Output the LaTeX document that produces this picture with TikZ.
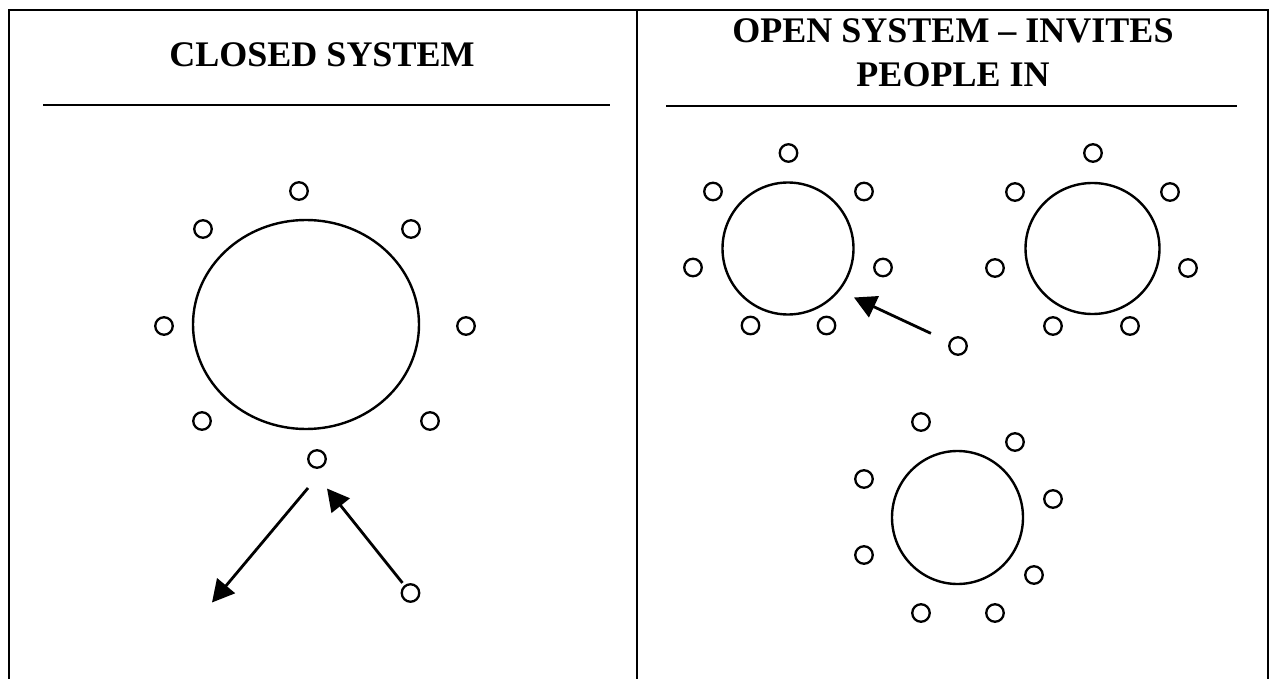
\documentclass[tikz,border=0pt]{standalone}
\usepackage{fontspec}
\setmainfont{Liberation Serif}
\usetikzlibrary{shapes.geometric,arrows.meta}
\tikzset{
  seat/.style={circle,draw,line width=2.3pt,minimum size=17.5pt,inner sep=0pt},
  table/.style={ellipse,draw,line width=2.4pt,inner sep=0pt},
  frameline/.style={line width=2.2pt},
  rulestyle/.style={line width=2.6pt},
  titletext/.style={anchor=base,inner sep=0pt,font=\fontsize{36pt}{44pt}\selectfont\bfseries},
  movearrow/.style={line width=2.8pt,-{Triangle[length=22pt,width=23pt]}}
}
\begin{document}
\begin{tikzpicture}[x=1pt,y=-1pt]
\useasboundingbox (0,0) rectangle (1269,679);
% frame
\draw[frameline] (9,679) -- (9,10) -- (1268,10) -- (1268,679);
\draw[frameline] (637,10) -- (637,679);
% titles
\node[titletext] (t1) at (322,67) {CLOSED SYSTEM};
\node[titletext] (t2a) at (953,43) {OPEN SYSTEM – INVITES};
\node[titletext] (t2b) at (953,87) {PEOPLE IN};
\draw[rulestyle] (43,105) -- (610,105);
\draw[rulestyle] (666,106) -- (1237,106);
% closed system
\node[table,minimum width=226pt,minimum height=209pt] (L) at (306,324.5) {};
\node[seat] (L1) at (299,191) {};
\node[seat] (L2) at (203,229) {};
\node[seat] (L3) at (411,229) {};
\node[seat] (L4) at (164,326) {};
\node[seat] (L5) at (466,326) {};
\node[seat] (L6) at (202,421) {};
\node[seat] (L7) at (430,421) {};
\node[seat] (c0) at (317,459) {};
\node[seat] (cR) at (410.5,593) {};
\coordinate (outS) at (308,488);
\coordinate (outE) at (212,602.5);
\coordinate (inE) at (327,488.5);
\draw[movearrow] (outS) -- (outE);
\draw[movearrow,shorten <=3pt] (cR) -- (inE);
% open system cluster A
\node[table,minimum width=131pt,minimum height=132pt] (A) at (788,248.5) {};
\node[seat] (A1) at (788.5,153) {};
\node[seat] (A2) at (713,191.5) {};
\node[seat] (A3) at (864,191.5) {};
\node[seat] (A4) at (693,267.5) {};
\node[seat] (A5) at (883,267.5) {};
\node[seat] (A6) at (750.5,325.5) {};
\node[seat] (A7) at (826.5,325.5) {};
\node[seat] (cA) at (958,346) {};
\coordinate (aE) at (854,297.5);
\draw[movearrow,shorten <=20pt] (cA) -- (aE);
% cluster B
\node[table,minimum width=134pt,minimum height=131pt] (B) at (1092.5,248.5) {};
\node[seat] (B1) at (1093,153) {};
\node[seat] (B2) at (1015,192) {};
\node[seat] (B3) at (1170,192) {};
\node[seat] (B4) at (995,268) {};
\node[seat] (B5) at (1188,268) {};
\node[seat] (B6) at (1053,326) {};
\node[seat] (B7) at (1130,326) {};
% cluster C
\node[table,minimum width=131pt,minimum height=133pt] (C) at (957.5,517.5) {};
\node[seat] (C1) at (921,422) {};
\node[seat] (C2) at (1015,442) {};
\node[seat] (C3) at (864,479) {};
\node[seat] (C4) at (1053,499) {};
\node[seat] (C5) at (864,555) {};
\node[seat] (C6) at (1034,575) {};
\node[seat] (C7) at (921,613) {};
\node[seat] (C8) at (995,613) {};
\end{tikzpicture}
\end{document}
